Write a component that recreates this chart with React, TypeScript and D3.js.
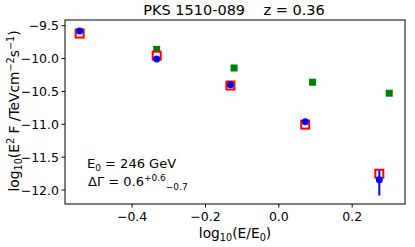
import React from "react";
import * as d3 from "d3";

// log10(E/E0) positions and log10(E^2 F) values
const redX = [-0.543, -0.333, -0.132, 0.072, 0.274];
const redY = [-9.62, -9.956, -10.41, -11.005, -11.753];
const blueX = [-0.543, -0.333, -0.132, 0.072, 0.274];
const blueY = [-9.58, -10.006, -10.4, -10.96, -11.845];
const blueErrLo = [0, 0, 0, 0, 0.24];
const blueErrHi = [0, 0, 0, 0, 0.14];
const greenX = [-0.543, -0.333, -0.122, 0.092, 0.301];
const greenY = [-9.6, -9.86, -10.143, -10.36, -10.527];

const xTicks = [-0.4, -0.2, 0.0, 0.2];
const yTicks = [-9.5, -10.0, -10.5, -11.0, -11.5, -12.0];

const W = 415;
const H = 247;
const m = { left: 65, right: 10, top: 20, bottom: 43 };

export default function App() {
  const x = d3.scaleLinear().domain([-0.583, 0.344]).range([m.left, W - m.right]);
  const y = d3.scaleLinear().domain([-9.413, -12.213]).range([m.top, H - m.bottom]);
  const font = "DejaVu Sans, sans-serif";
  const fmtX = (v: number) => d3.format(".1f")(v).replace("-", "\u2212");
  const tickFs = 12.5;
  const labFs = 13.8;
  const sub = labFs * 0.7;

  return (
    <svg
      width={W}
      height={H}
      style={{ position: "absolute", left: 0, top: 0 }}
      fontFamily={font}
    >
      <rect width={W} height={H} fill="#fff" />
      <text
        x={234}
        y={15}
        fontSize={14.5}
        textAnchor="middle"
        xmlSpace="preserve"
        style={{ whiteSpace: "pre" }}
      >
        {"PKS 1510-089    z = 0.36"}
      </text>

      {/* axes frame */}
      <rect
        x={m.left}
        y={m.top}
        width={W - m.left - m.right}
        height={H - m.top - m.bottom}
        fill="none"
        stroke="#000"
        strokeWidth={1}
      />

      {xTicks.map((t) => (
        <g key={t}>
          <line x1={x(t)} x2={x(t)} y1={H - m.bottom} y2={H - m.bottom + 3.5} stroke="#000" />
          <text x={x(t)} y={H - m.bottom + 17} fontSize={tickFs} textAnchor="middle">
            {fmtX(t)}
          </text>
        </g>
      ))}
      {yTicks.map((t) => (
        <g key={t}>
          <line x1={m.left - 3.5} x2={m.left} y1={y(t)} y2={y(t)} stroke="#000" />
          <text x={m.left - 6} y={y(t) + 4.5} fontSize={tickFs} textAnchor="end">
            {d3.format(".1f")(t)}
          </text>
        </g>
      ))}

      <text x={235} y={238} fontSize={labFs} textAnchor="middle">
        log<tspan fontSize={sub} dy={3}>10</tspan>
        <tspan dy={-3}>(E/E</tspan>
        <tspan fontSize={sub} dy={3}>0</tspan>
        <tspan dy={-3}>)</tspan>
      </text>

      <text
        transform={`translate(19,111) rotate(-90)`}
        fontSize={labFs}
        textAnchor="middle"
      >
        log<tspan fontSize={sub} dy={3}>10</tspan>
        <tspan dy={-3}>(E</tspan>
        <tspan fontSize={sub} dy={-5.5}>2</tspan>
        <tspan dy={5.5}> F /TeVcm</tspan>
        <tspan fontSize={sub} dy={-5.5}>−2</tspan>
        <tspan dy={5.5}>s</tspan>
        <tspan fontSize={sub} dy={-5.5}>−1</tspan>
        <tspan dy={5.5}>)</tspan>
      </text>

      {/* green squares */}
      {greenX.map((v, i) => (
        <rect key={"g" + i} x={x(v) - 3.5} y={y(greenY[i]) - 3.5} width={7} height={7} fill="#008000" />
      ))}
      {/* red open squares */}
      {redX.map((v, i) => (
        <rect
          key={"r" + i}
          x={x(v) - 4}
          y={y(redY[i]) - 4}
          width={8}
          height={8}
          fill="#fff"
          stroke="#ff0000"
          strokeWidth={2}
        />
      ))}
      {/* blue points with error bars */}
      {blueX.map((v, i) => (
        <g key={"b" + i}>
          {blueErrLo[i] + blueErrHi[i] > 0 && (
            <line
              x1={x(v)}
              x2={x(v)}
              y1={y(blueY[i] + blueErrHi[i])}
              y2={y(blueY[i] - blueErrLo[i])}
              stroke="#0000ff"
              strokeWidth={2}
            />
          )}
          <circle cx={x(v)} cy={y(blueY[i])} r={3.5} fill="#0000ff" />
        </g>
      ))}

      <text x={87} y={168} fontSize={13}>
        E<tspan fontSize={9} dy={3}>0</tspan>
        <tspan dy={-3}> = 246 GeV</tspan>
      </text>
      <text x={88} y={186} fontSize={13}>
        ΔΓ = 0.6<tspan fontSize={9} dy={-5}>+0.6</tspan>
        <tspan fontSize={9} dy={9}>−0.7</tspan>
      </text>
    </svg>
  );
}
